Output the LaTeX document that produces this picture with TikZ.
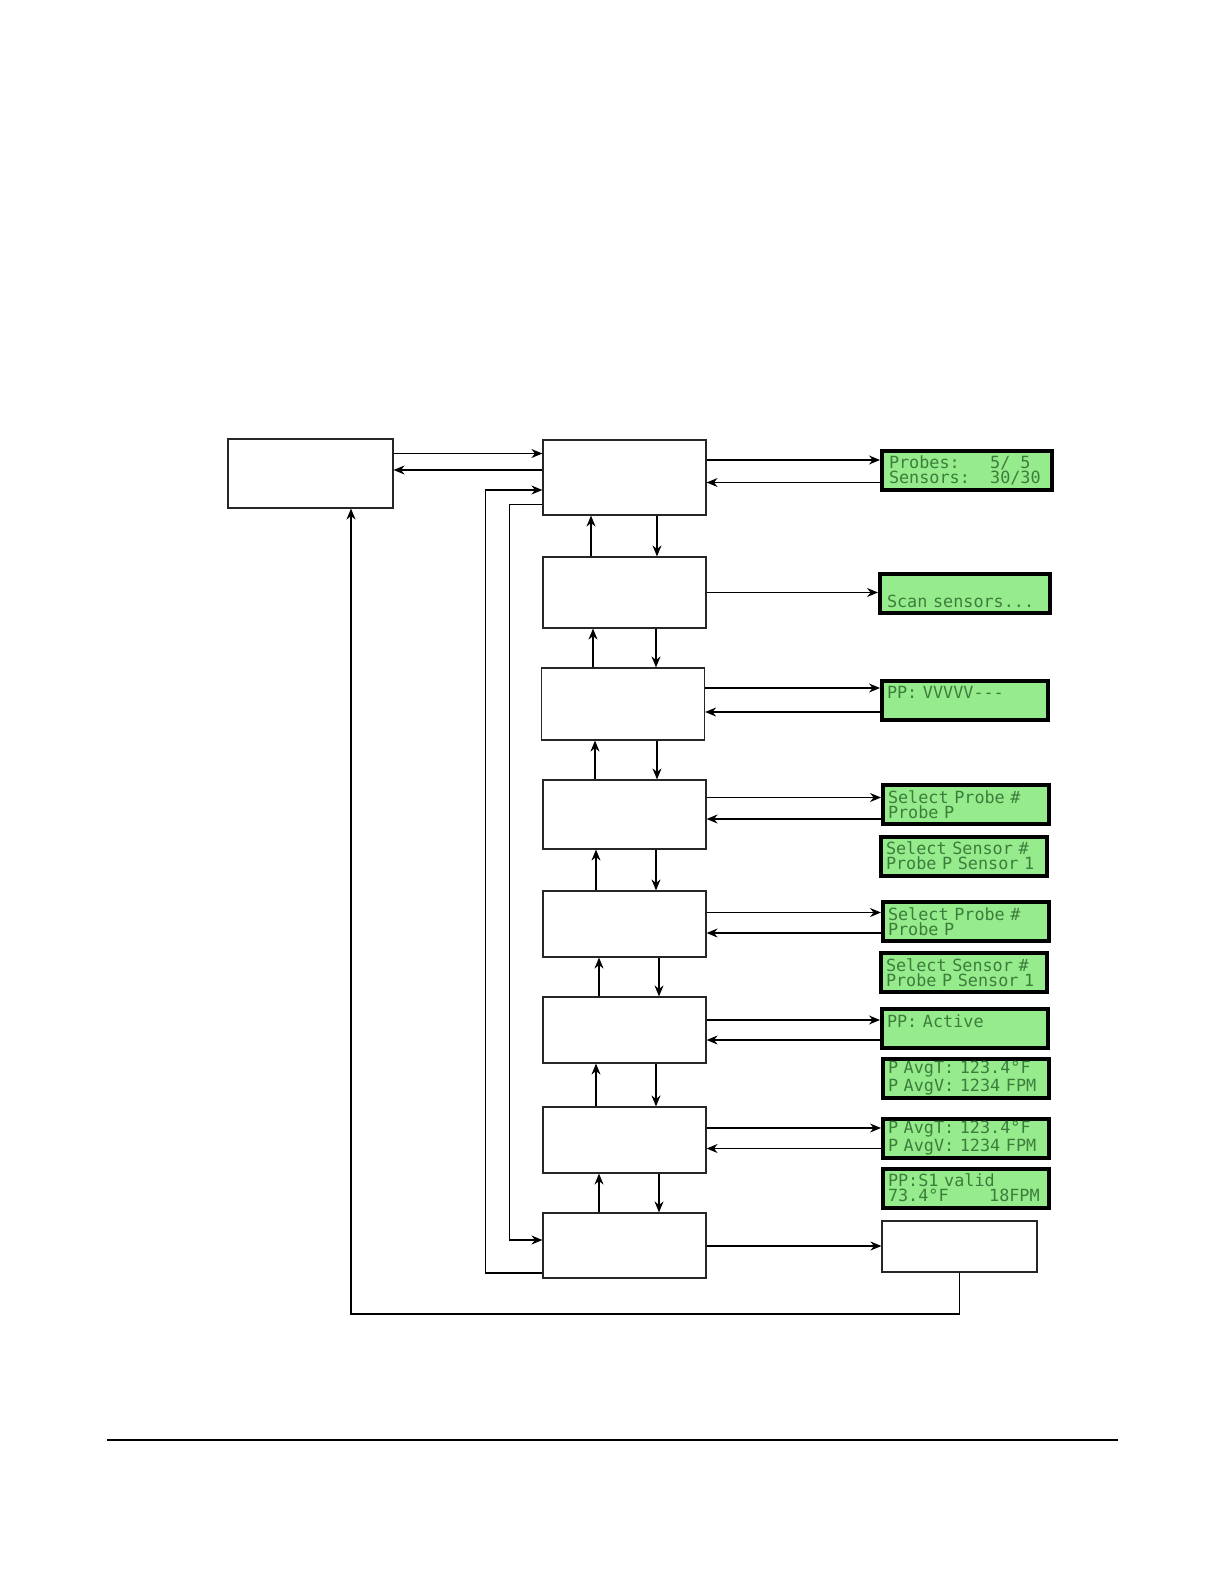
\documentclass[tikz,border=0pt]{standalone}
\usepackage{fontspec}
\usepackage{xcolor}
\usetikzlibrary{arrows.meta}
\newfontfamily\lcdfont{DejaVu Sans Mono}
\definecolor{lcdgreen}{RGB}{150,236,140}
\definecolor{lcdink}{RGB}{60,125,60}
\newcommand{\lcdsp}{\hphantom{0}}

\begin{document}
\begin{tikzpicture}[
  x=0.5pt, y=-0.5pt,
  box/.style={draw=black!85, line width=0.6pt, minimum width=81.5pt, minimum height=33pt,
              inner sep=0pt, fill=white},
  lcd/.style={draw=black, line width=2pt, fill=lcdgreen, text=lcdink, anchor=west,
              minimum width=83pt, minimum height=19.5pt, inner xsep=2.5pt, inner ysep=0pt,
              text width=78pt, align=left, font=\lcdfont\fontsize{8.4}{7.6}\selectfont},
  arr/.style={-{Stealth[length=5.5pt, width=4.5pt, inset=1.8pt]}, line width=0.6pt},
]
\useasboundingbox (0,0) rectangle (1224,1584);

\node[box, minimum width=82.5pt, minimum height=34.5pt] (home) at (310.5,473.5) {};

\node[box, minimum height=37.5pt] (lvl1) at (624.5,477.5) {};
\node[box, minimum height=35.5pt] (lvl2) at (624.5,592.5) {};
\node[box, minimum height=36pt]   (lvl3) at (623,704)     {};
\node[box, minimum height=34.5pt] (lvl4) at (624.5,814.5) {};
\node[box]                        (lvl5) at (624.5,924)   {};
\node[box]                        (lvl6) at (624.5,1030)  {};
\node[box]                        (lvl7) at (624.5,1140)  {};
\node[box, minimum height=32.5pt] (lvl8) at (624.5,1245.5) {};

\node[box, minimum width=77.5pt, minimum height=25.5pt] (finish) at (959.5,1246.5) {};

\node[lcd, minimum width=85pt] (probes) at (880,470.5)
  {Probes:\lcdsp\lcdsp\lcdsp5/\lcdsp5\\Sensors:\lcdsp\lcdsp30/30};
\node[lcd, minimum width=85pt] (scan)   at (878,593.5)  {\phantom{X}\\Scan sensors...};
\node[lcd] (ppstat)     at (880,700)    {PP: VVVVV---\\\phantom{X}};
\node[lcd] (selprobeA)  at (881,804.5)  {Select Probe \#\\Probe P};
\node[lcd] (selsensorA) at (879,856)    {Select Sensor \#\\Probe P Sensor 1};
\node[lcd] (selprobeB)  at (881,921.5)  {Select Probe \#\\Probe P};
\node[lcd] (selsensorB) at (879,972.5)  {Select Sensor \#\\Probe P Sensor 1};
\node[lcd] (active)     at (880,1028.5) {PP: Active\\\phantom{X}};
\node[lcd] (avgA)       at (881,1078)   {P AvgT: 123.4°F\\P AvgV: 1234 FPM};
\node[lcd] (avgB)       at (881,1138)   {P AvgT: 123.4°F\\P AvgV: 1234 FPM};
\node[lcd] (valid)      at (881,1188)
  {PP:S1 valid\\73.4°F\lcdsp\lcdsp\lcdsp\lcdsp18FPM};

\draw[arr] (home.east |- 0,453.5) -- (lvl1.west |- 0,453.5);
\draw[arr] (lvl1.west |- 0,470) -- (home.east |- 0,470);

\draw[arr] (lvl1.east |- 0,460)    -- (probes.west |- 0,460);
\draw[arr] (probes.west |- 0,482.5) -- (lvl1.east |- 0,482.5);
\draw[arr] (lvl2.east) -- (scan.west |- lvl2.east);
\draw[arr] (lvl3.east |- 0,688)    -- (ppstat.west |- 0,688);
\draw[arr] (ppstat.west |- 0,712)  -- (lvl3.east |- 0,712);
\draw[arr] (lvl4.east |- 0,797.5)  -- (selprobeA.west |- 0,797.5);
\draw[arr] (selprobeA.west |- 0,819) -- (lvl4.east |- 0,819);
\draw[arr] (lvl5.east |- 0,912.5)  -- (selprobeB.west |- 0,912.5);
\draw[arr] (selprobeB.west |- 0,933) -- (lvl5.east |- 0,933);
\draw[arr] (lvl6.east |- 0,1020)   -- (active.west |- 0,1020);
\draw[arr] (active.west |- 0,1040) -- (lvl6.east |- 0,1040);
\draw[arr] (lvl7.east |- 0,1128)   -- (avgB.west |- 0,1128);
\draw[arr] (avgB.west |- 0,1148.5) -- (lvl7.east |- 0,1148.5);
\draw[arr] (lvl8.east |- 0,1246)   -- (finish.west |- 0,1246);

\draw[arr] (lvl2.north -| 591,0) -- (lvl1.south -| 591,0);
\draw[arr] (lvl1.south -| 657,0) -- (lvl2.north -| 657,0);
\draw[arr] (lvl3.north -| 593,0) -- (lvl2.south -| 593,0);
\draw[arr] (lvl2.south -| 656,0) -- (lvl3.north -| 656,0);
\draw[arr] (lvl4.north -| 595,0) -- (lvl3.south -| 595,0);
\draw[arr] (lvl3.south -| 657,0) -- (lvl4.north -| 657,0);
\draw[arr] (lvl5.north -| 596,0) -- (lvl4.south -| 596,0);
\draw[arr] (lvl4.south -| 656,0) -- (lvl5.north -| 656,0);
\draw[arr] (lvl6.north -| 599,0) -- (lvl5.south -| 599,0);
\draw[arr] (lvl5.south -| 659,0) -- (lvl6.north -| 659,0);
\draw[arr] (lvl7.north -| 596,0) -- (lvl6.south -| 596,0);
\draw[arr] (lvl6.south -| 656,0) -- (lvl7.north -| 656,0);
\draw[arr] (lvl8.north -| 599,0) -- (lvl7.south -| 599,0);
\draw[arr] (lvl7.south -| 659,0) -- (lvl8.north -| 659,0);

\draw[arr] (lvl1.west |- 0,504.5) -| (509.5,1240) -- (lvl8.west |- 0,1240);
\draw[arr] (lvl8.west |- 0,1273) -| (485.5,490) -- (lvl1.west |- 0,490);
\draw[arr] (finish.south) |- (351,1314) -- (home.south -| 351,0);

\draw[line width=1pt] (107,1440) -- (1118,1440);

\end{tikzpicture}
\end{document}
